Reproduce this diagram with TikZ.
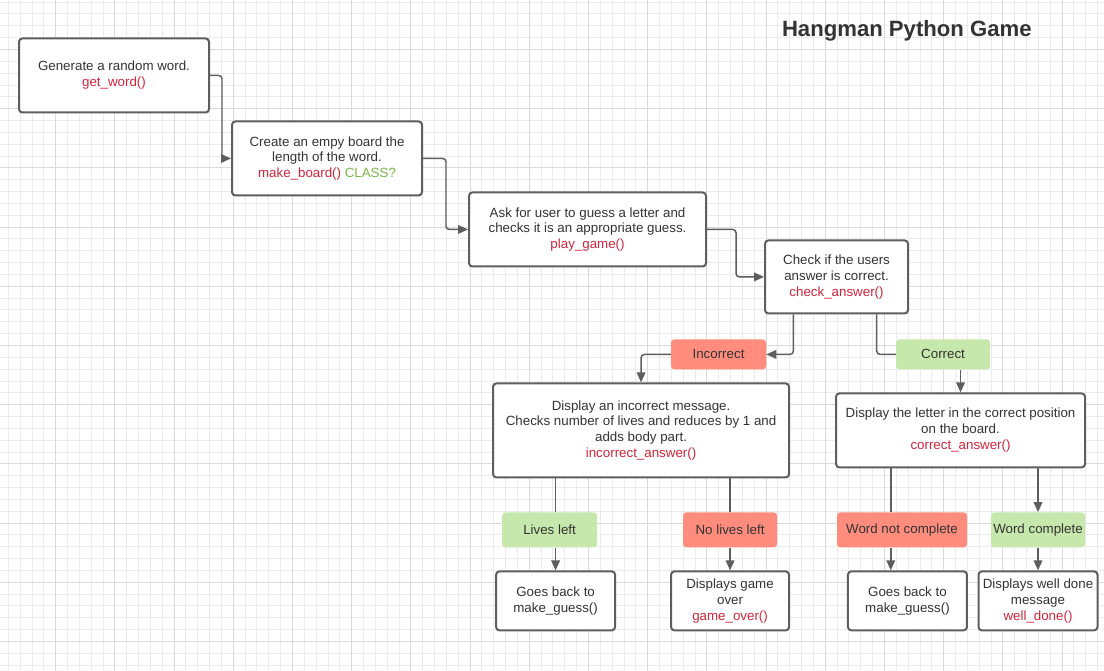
\documentclass[tikz,border=0pt]{standalone}
\usepackage{fontspec}
\setmainfont{Liberation Sans}
\usepackage{tikz}
\usetikzlibrary{positioning,arrows.meta}

\definecolor{inkgray}{HTML}{333333}
\definecolor{edgegray}{HTML}{5E5E5E}
\definecolor{fnred}{HTML}{D0253C}
\definecolor{hintgreen}{HTML}{7AB648}
\definecolor{nofill}{HTML}{FF8C7D}
\definecolor{yesfill}{HTML}{C7E8AC}
\definecolor{gridminor}{HTML}{EBEBEB}
\definecolor{gridmajor}{HTML}{DADADA}

\newcommand{\fn}[1]{\textcolor{fnred}{#1}}

\begin{document}
\begin{tikzpicture}[
    font=\fontsize{10}{11.9}\selectfont, text=inkgray,
    box/.style={draw=edgegray, line width=1.5pt, rounded corners=2.5pt, fill=white, align=center, inner sep=2pt},
    tag/.style={rounded corners=2.5pt, align=center, minimum height=26.25pt, inner sep=1pt},
    link/.style={draw=edgegray, line width=1.1pt, rounded corners=2.5pt},
    tip/.style={link, -{Triangle[length=7.5pt,width=6.5pt]}}
  ]
  \useasboundingbox (0,0) rectangle (828pt,-503.25pt);
  % background grid
  \begin{scope}[x=0.75pt,y=-0.75pt]
    \clip (0,0) rectangle (1104,671);
    \fill[white] (0,0) rectangle (1104,671);
    \foreach \i in {0,...,94} \draw[gridminor, line width=0.75pt] (-3.5+11.84*\i,0) -- ++(0,671);
    \foreach \j in {0,...,57} \draw[gridminor, line width=0.75pt] (0,-9.7+11.84*\j) -- ++(1104,0);
    \foreach \i in {0,...,19} \draw[gridmajor, line width=0.75pt] (-3.5+59.2*\i,0) -- ++(0,671);
    \foreach \j in {0,...,12} \draw[gridmajor, line width=0.75pt] (0,-9.7+59.2*\j) -- ++(1104,0);
  \end{scope}

  \node[font=\bfseries\fontsize{16.6}{20}\selectfont, anchor=base west, inner sep=0pt] (title) at (586.3pt,-27.2pt) {Hangman Python Game};

  \node[box, minimum width=142.5pt, minimum height=55.5pt] (get) at (85.5pt,-56.6pt) {Generate a random word.\\\fn{get\_word()}};
  \node[box, on grid, below right=62.25pt and 159.75pt of get, minimum width=142.5pt, minimum height=55.5pt] (board) {Create an empy board the\\length of the word.\\\fn{make\_board()} \textcolor{hintgreen}{CLASS?}};
  \node[box, on grid, below right=53.25pt and 195.4pt of board, minimum width=177.75pt, minimum height=55.5pt] (play) {Ask for user to guess a letter and\\checks it is an appropriate guess.\\\fn{play\_game()}};
  \node[box, on grid, below right=35.6pt and 186.75pt of play, minimum width=107.25pt, minimum height=54.75pt] (check) {Check if the users\\answer is correct.\\\fn{check\_answer()}};

  \node[tag, fill=nofill, on grid, below left=58.1pt and 88.5pt of check, minimum width=71.25pt, minimum height=22.5pt] (incorrect) {Incorrect};
  \node[tag, fill=yesfill, on grid, below right=58.1pt and 79.9pt of check, minimum width=70.5pt, minimum height=22.5pt] (correct) {Correct};

  \node[box, on grid, below left=57pt and 58.1pt of incorrect, minimum width=222pt, minimum height=70.5pt] (incans) {Display an incorrect message.\\Checks number of lives and reduces by 1 and\\adds body part.\\\fn{incorrect\_answer()}};
  \node[box, on grid, below right=57pt and 13.1pt of correct, minimum width=186.75pt, minimum height=55.5pt] (corans) {Display the letter in the correct position\\on the board.\\\fn{correct\_answer()}};

  \node[tag, fill=yesfill, on grid, below left=74.6pt and 68.6pt of incans, minimum width=71.25pt] (lives) {Lives left};
  \node[tag, fill=nofill, on grid, below right=74.6pt and 66.75pt of incans, minimum width=70.5pt] (nolives) {No lives left};
  \node[tag, fill=nofill, on grid, below left=74.6pt and 43.9pt of corans, minimum width=97.5pt] (wordnot) {Word not complete};
  \node[tag, fill=yesfill, on grid, below right=74.6pt and 58.1pt of corans, minimum width=70.5pt] (wordok) {Word complete};

  \node[box, on grid, below right=53.25pt and 4.5pt of lives, minimum width=89.25pt, minimum height=44.25pt] (back1) {Goes back to\\make\_guess()};
  \node[box, on grid, below=53.25pt of nolives, minimum width=88.5pt, minimum height=44.25pt] (over) {Displays game\\over\\\fn{game\_over()}};
  \node[box, on grid, below right=53.25pt and 4.1pt of wordnot, minimum width=89.25pt, minimum height=44.25pt] (back2) {Goes back to\\make\_guess()};
  \node[box, on grid, below=53.25pt of wordok, minimum width=89.25pt, minimum height=44.25pt] (done) {Displays well done\\message\\\fn{well\_done()}};

  % connectors
  \draw[tip] (get.east) -- ++(9pt,0) |- (board.west);
  \draw[tip] (board.east) -- ++(17.25pt,0) |- (play.west);
  \draw[tip] (play.east) -- ++(21.75pt,0) |- (check.west);
  \draw[tip] (check.south west) ++(22pt,0) |- (incorrect.east);
  \draw[link] (check.south west) ++(84.5pt,0) |- (correct.west);
  \draw[tip] (incorrect.west) -| (incans.north);
  \draw[tip] (correct.south -| corans.north) -- (corans.north);
  \draw[link] (incans.south -| back1.north) -- (lives.north -| back1.north);
  \draw[tip] (lives.south -| back1.north) -- (back1.north);
  \draw[link] (incans.south -| over.north) -- (nolives.north);
  \draw[tip] (nolives.south) -- (over.north);
  \draw[link] (corans.south west) ++(41.8pt,0) coordinate (split) -- (split |- wordnot.north);
  \draw[tip] (split |- wordnot.south) -- (split |- back2.north);
  \draw[tip] (corans.south -| wordok.north) -- (wordok.north);
  \draw[tip] (wordok.south) -- (done.north);
\end{tikzpicture}
\end{document}
